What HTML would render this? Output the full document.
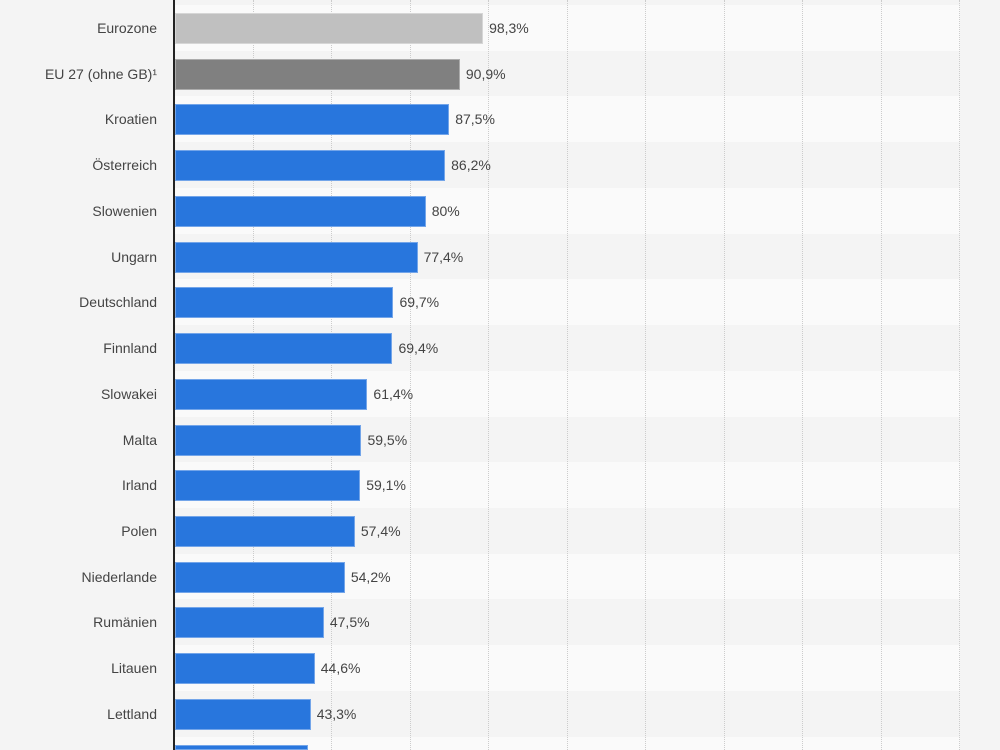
<!DOCTYPE html><html><head><style>html,body{margin:0;width:1000px;height:750px;overflow:hidden}
body{background:#f4f4f4;font-family:"Liberation Sans",sans-serif}
#c{position:relative;width:1000px;height:750px;overflow:hidden}
.b{position:absolute;left:174px;width:786px}
.g{position:absolute;top:0;height:750px;border-left:1px dotted #ccc}
.bar{position:absolute;left:175px;height:31px;box-sizing:border-box;border:1px solid rgba(255,255,255,.35)}
.l{position:absolute;right:843px;font-size:14px;color:#444;white-space:nowrap}
.v{position:absolute;font-size:14px;color:#444}
</style></head><body><div id="c"></div>
<script>
var d=[["Eurozone",98.3,"#c0c0c0"],["EU 27 (ohne GB)¹",90.9,"#808080"],["Kroatien",87.5],["Österreich",86.2],["Slowenien",80],["Ungarn",77.4],["Deutschland",69.7],["Finnland",69.4],["Slowakei",61.4],["Malta",59.5],["Irland",59.1],["Polen",57.4],["Niederlande",54.2],["Rumänien",47.5],["Litauen",44.6],["Lettland",43.3],["",42.5]];
var h="",rh=45.73;
for(var i=0;i<17;i++){var t=5+rh*i;var hh=Math.min(rh+1,750-t);h+='<div class="b" style="top:'+t+'px;height:'+hh+'px;background:'+(i%2?'#f4f4f4':'#fafafa')+'"></div>';}
for(var k=1;k<=10;k++)h+='<div class="g" style="left:'+(174+78.5*k)+'px"></div>';
h+='<div style="position:absolute;left:173px;top:0;width:2px;height:750px;background:#222"></div>';
d.forEach(function(r,i){var c=5+rh*i+23.5,w=r[1]*3.134;var top=c-15.5;var bh=Math.min(31,750-top);h+='<div class="bar" style="top:'+top+'px;height:'+bh+'px;width:'+w+'px;background:'+(r[2]||'#2876dd')+'"></div>';
if(r[0]){h+='<div class="l" style="top:'+(c-8.5)+'px">'+r[0]+'</div><div class="v" style="left:'+(181+w)+'px;top:'+(c-8.5)+'px">'+String(r[1]).replace('.',',')+'%</div>';}});
document.getElementById('c').innerHTML=h;
</script></body></html>
